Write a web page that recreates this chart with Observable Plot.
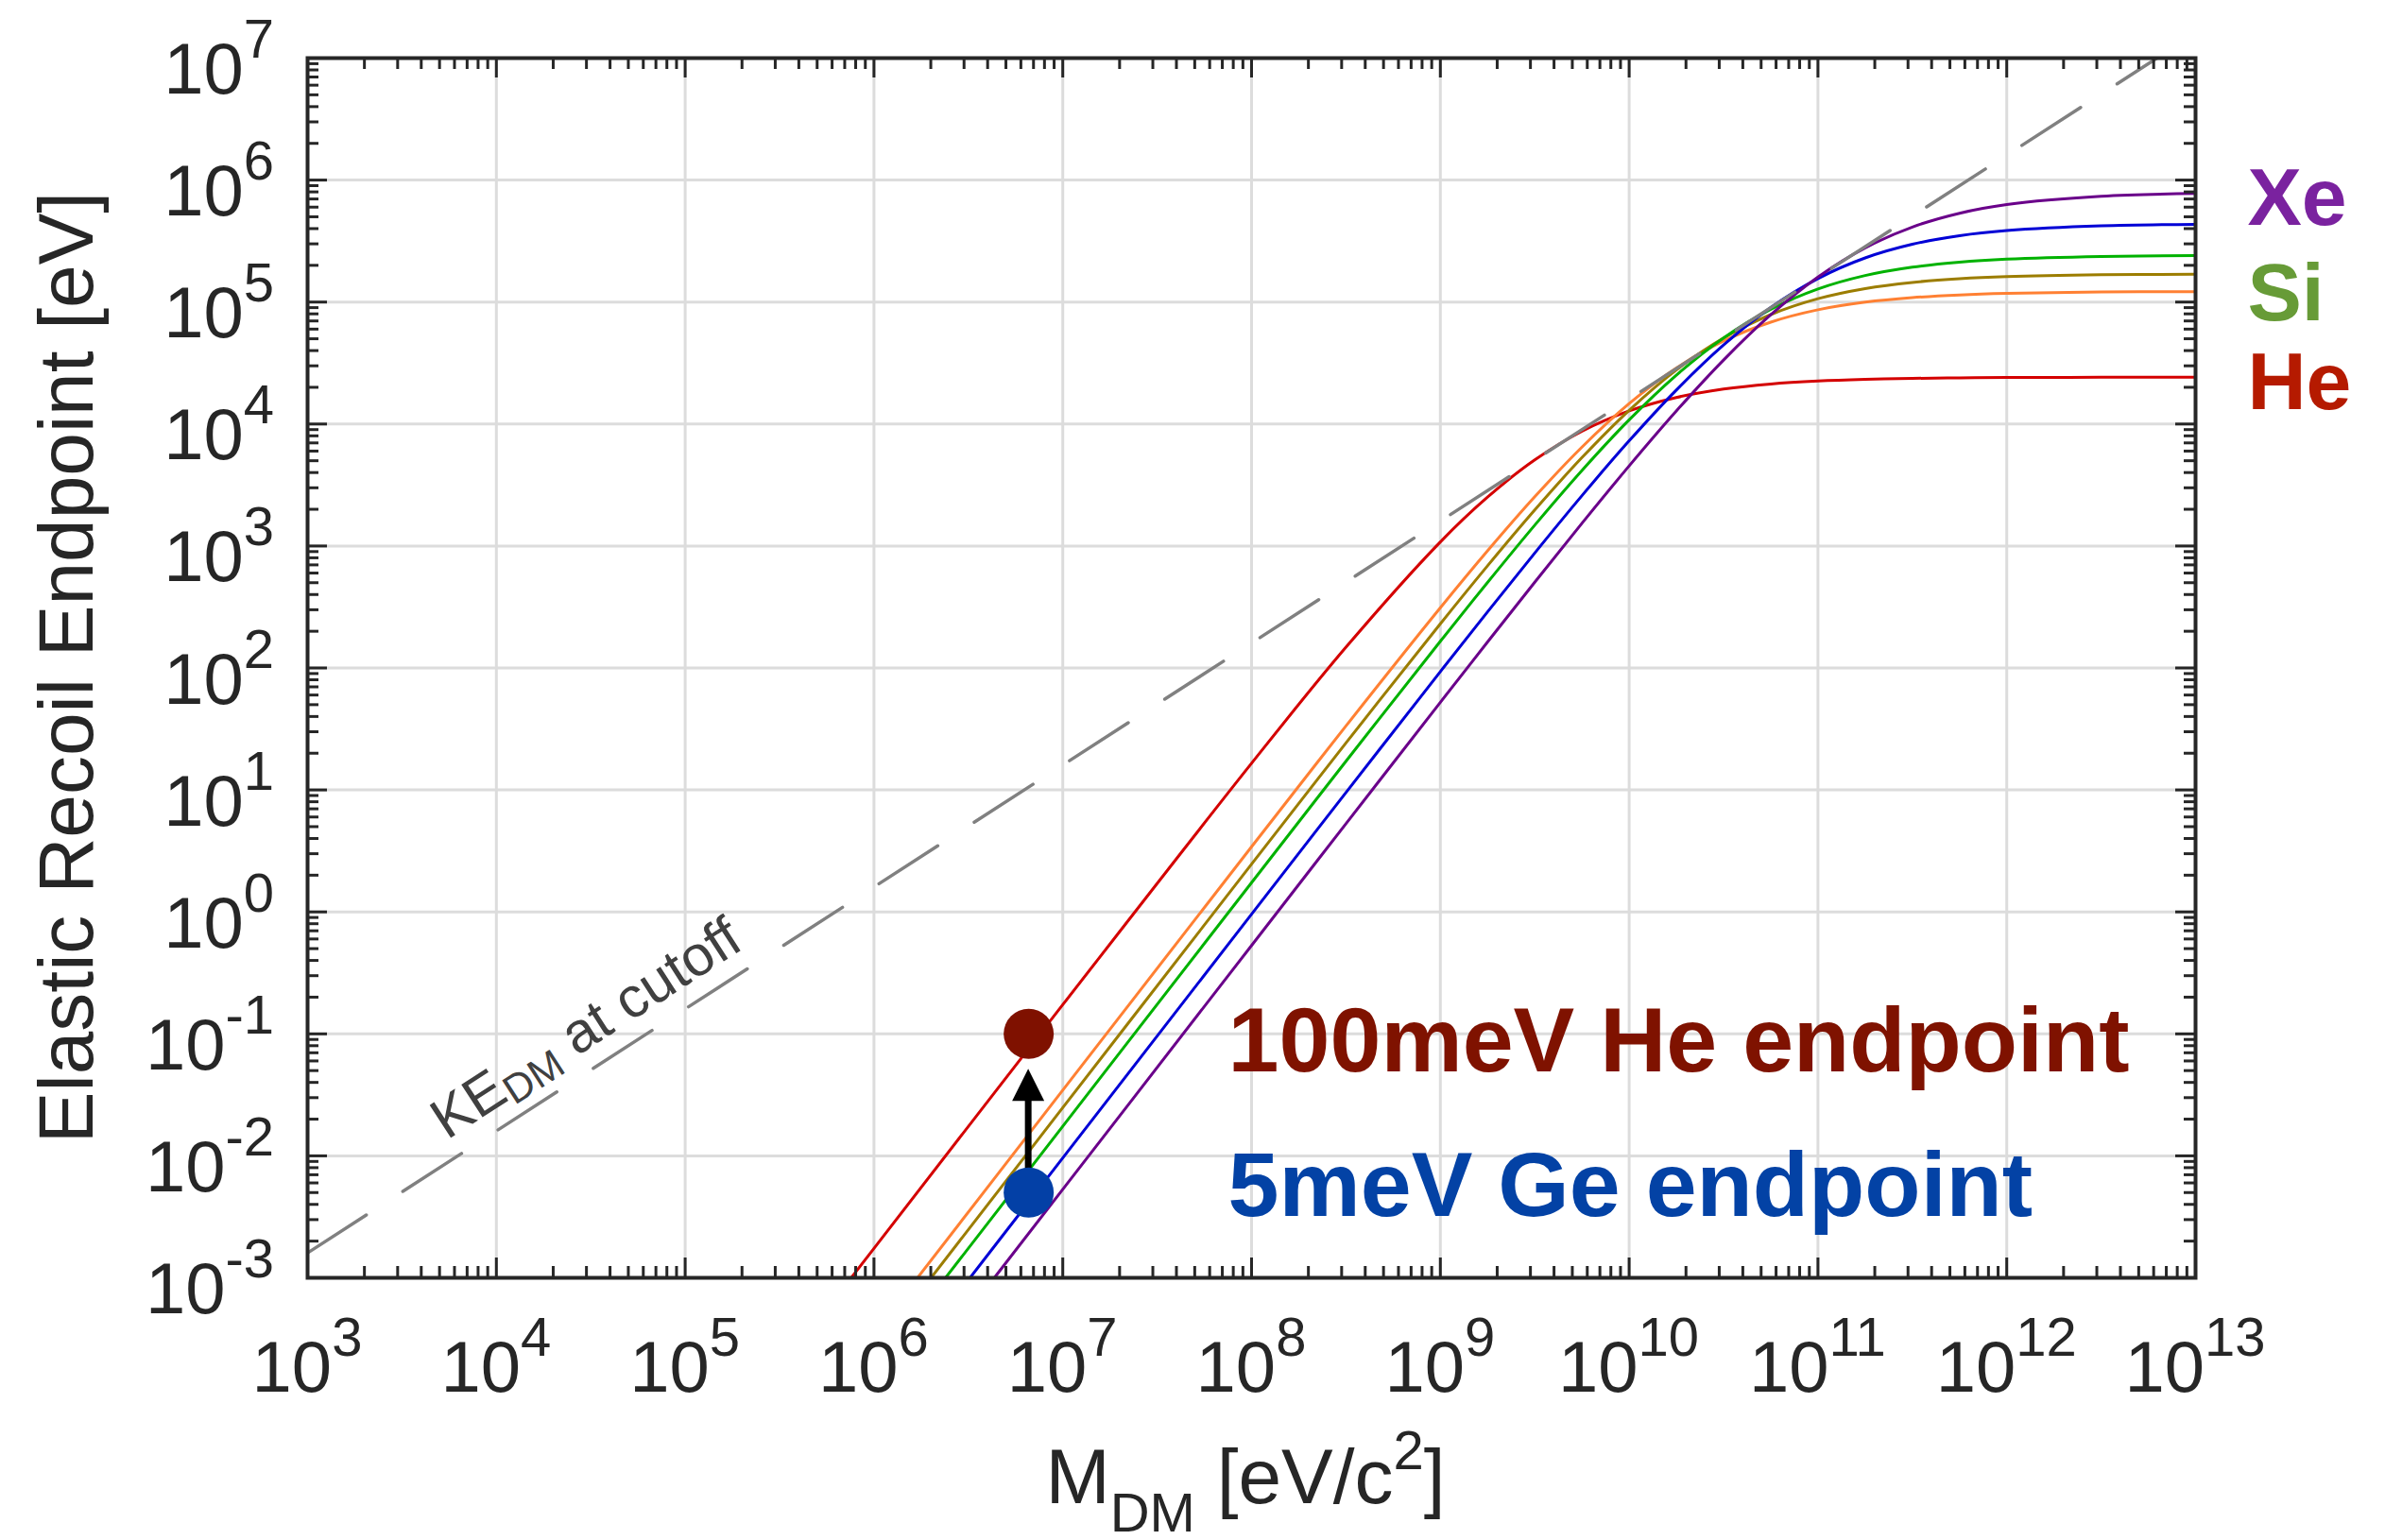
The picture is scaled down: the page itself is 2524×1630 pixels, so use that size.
<!DOCTYPE html>
<html>
<head>
<meta charset="utf-8">
<script src="https://cdn.jsdelivr.net/npm/d3@7"></script>
<script src="https://cdn.jsdelivr.net/npm/@observablehq/plot@0.6"></script>
<style>
  html, body { margin: 0; padding: 0; background: #fff; }
  #chart svg { display: block; }
</style>
</head>
<body>
<div id="chart"></div>
<script>
// Dark-matter mass grid (eV/c^2) shared by every recoil curve
const massGrid = [3.162e5, 1e6, 1e7, 1e8, 3.162e8, 1e9, 1.778e9, 3.162e9, 5.623e9, 1e10,
                  1.778e10, 3.162e10, 5.623e10, 1e11, 1.778e11, 3.162e11, 5.623e11, 1e12, 3.162e12, 1e13];

// Elastic recoil endpoint (eV) for each target nucleus along massGrid
const energyHe = [1.743e-4, 1.743e-3, 0.1734, 16.53, 147.9, 1080, 2516, 5078, 8719, 12806,
                  16510, 19357, 21290, 22504, 23237, 23665, 23917, 24055, 24177, 24216];
const energyNe = [3.458e-5, 3.458e-4, 0.03454, 3.421, 33.43, 311.5, 911.7, 2530, 6463, 14695,
                  28780, 47910, 68450, 86440, 99820, 108770, 114380, 117690, 120760, 121740];
const energySi = [2.484e-5, 2.484e-4, 0.02482, 2.465, 24.25, 230.3, 688.0, 1974, 5309, 12957,
                  27731, 50687, 78890, 106510, 128960, 144880, 155140, 161440, 167250, 169150];
const energyAr = [1.747e-5, 1.747e-4, 0.01746, 1.738, 17.17, 165.6, 502.6, 1482, 4159, 10814,
                  25177, 50790, 87150, 127940, 164930, 193260, 212520, 224680, 236210, 240110];
const energyGe = [9.607e-6, 9.607e-5, 9.605e-3, 0.9579, 9.517, 93.26, 288.4, 876.1, 2587, 7277,
                  18990, 44427, 90157, 155740, 229880, 297570, 349900, 385370, 421410, 433810];
const energyXe = [5.314e-6, 5.314e-5, 5.314e-3, 0.5306, 5.288, 52.29, 163.2, 504.7, 1535, 4536,
                  12785, 33457, 78560, 160180, 277950, 411870, 534930, 630080, 736480, 775780];

// Dark-matter kinetic energy at the velocity cutoff
const keMass = [1e3, 1e13];
const keEnergy = [1.6e-3, 1.6e7];
const keLabelMass = 5.5e3;
const keLabelEnergy = 0.0133;

// Highlighted endpoints (eV) at a common dark-matter mass
const endpointMass = 6.6e6;
const endpointHe = 0.1;    // 100 meV
const endpointGe = 0.005;  // 5 meV

// Annotation text and nucleus names on the right
const noteMass = 7.5e7;
const notes = [
  {text: "100meV He endpoint", energy: 0.086, color: "#7f1200"},
  {text: "5meV Ge endpoint", energy: 0.0056, color: "#0342a5"}
];
const sideLabels = [
  {text: "Xe", energy: 7.0e5, color: "#7a229f"},
  {text: "Si", energy: 1.16e5, color: "#679b37"},
  {text: "He", energy: 2.15e4, color: "#b51a00"}
];

// Tick labels: powers of ten
const xExponents = [3, 4, 5, 6, 7, 8, 9, 10, 11, 12, 13];
const yExponents = [-3, -2, -1, 0, 1, 2, 3, 4, 5, 6, 7];

const series = [
  {energy: energyHe, color: "#d40000"},
  {energy: energyNe, color: "#ff8033"},
  {energy: energySi, color: "#9c7d00"},
  {energy: energyAr, color: "#00b200"},
  {energy: energyGe, color: "#0000d6"},
  {energy: energyXe, color: "#6a008a"}
];

const FONT = "'Liberation Sans', Arial, Helvetica, sans-serif";
const INK = "#262626";
const W = 2524, H = 1630;
const M = {top: 61, right: 201, bottom: 278, left: 325};
const frameW = W - M.left - M.right;
const frameH = H - M.top - M.bottom;
const MAJOR = 21, MINOR = 12, DOT_R = 26.5;

const xMajor = xExponents.map(e => 10 ** e);
const yMajor = yExponents.map(e => 10 ** e);
const minorOf = (majors) => majors.slice(0, -1).flatMap(d => [2, 3, 4, 5, 6, 7, 8, 9].map(k => k * d));
const xMinor = minorOf(xMajor);
const yMinor = minorOf(yMajor);

// Arrow from the Ge endpoint up toward the He endpoint
function arrowMark(index, {x, y}) {
  const g = d3.create("svg:g");
  const ax = x(endpointMass);
  const yFrom = y(endpointGe);
  const tip = y(endpointHe) + DOT_R + 11;
  const headLen = 34, headHalf = 17;
  g.append("line")
    .attr("x1", ax).attr("x2", ax)
    .attr("y1", yFrom).attr("y2", tip + headLen - 2)
    .attr("stroke", "#000").attr("stroke-width", 7);
  g.append("path")
    .attr("d", `M${ax},${tip}L${ax + headHalf},${tip + headLen}L${ax - headHalf},${tip + headLen}Z`)
    .attr("fill", "#000");
  return g.node();
}

// Label along the cutoff line
function keLabelMark(index, {x, y}) {
  const angle = Math.atan2(y(keEnergy[1]) - y(keEnergy[0]), x(keMass[1]) - x(keMass[0])) * 180 / Math.PI;
  const g = d3.create("svg:g").attr("font-family", FONT).attr("fill", "#404040");
  const t = g.append("text")
    .attr("transform", `translate(${x(keLabelMass)},${y(keLabelEnergy)}) rotate(${angle})`)
    .attr("text-anchor", "start")
    .attr("font-size", 60);
  t.append("tspan").text("KE");
  t.append("tspan").attr("dy", 8).attr("font-size", 43).text("DM");
  t.append("tspan").attr("dy", -8).text(" at cutoff");
  return g.node();
}

// Tick labels and axis titles
function axisTextMark(index, {x, y}, values, dims) {
  const g = d3.create("svg:g").attr("font-family", FONT).attr("fill", INK);
  const bottom = dims.height - dims.marginBottom;
  for (const e of xExponents) {
    const t = g.append("text")
      .attr("x", x(10 ** e)).attr("y", bottom + 121)
      .attr("text-anchor", "middle").attr("font-size", 76);
    t.append("tspan").text("10");
    t.append("tspan").attr("dy", -38).attr("font-size", 58).text(String(e));
  }
  for (const e of yExponents) {
    const t = g.append("text")
      .attr("x", dims.marginLeft - 35).attr("y", y(10 ** e) + 38)
      .attr("text-anchor", "end").attr("font-size", 76);
    t.append("tspan").text("10");
    t.append("tspan").attr("dy", -38).attr("font-size", 58).text(String(e));
  }
  const cx = dims.marginLeft + (dims.width - dims.marginLeft - dims.marginRight) / 2 - 6;
  const xt = g.append("text")
    .attr("x", cx).attr("y", bottom + 239)
    .attr("text-anchor", "middle").attr("font-size", 82);
  xt.append("tspan").text("M");
  xt.append("tspan").attr("dy", 30).attr("font-size", 58).text("DM");
  xt.append("tspan").attr("dy", -30).text(" [eV/c");
  xt.append("tspan").attr("dy", -36).attr("font-size", 58).text("2");
  xt.append("tspan").attr("dy", 36).text("]");
  const cy = dims.marginTop + (bottom - dims.marginTop) / 2;
  g.append("text")
    .attr("transform", `translate(98,${cy}) rotate(-90)`)
    .attr("text-anchor", "middle").attr("font-size", 82)
    .text("Elastic Recoil Endpoint [eV]");
  return g.node();
}

const curveMarks = series.map(s =>
  Plot.line(massGrid.map((m, i) => ({mass: m, energy: s.energy[i]})), {
    x: "mass", y: "energy", stroke: s.color, strokeWidth: 3,
    curve: "catmull-rom", clip: true
  })
);

const keRows = keMass.map((m, i) => ({mass: m, energy: keEnergy[i]}));

const chart = Plot.plot({
  width: W,
  height: H,
  marginTop: M.top,
  marginRight: M.right,
  marginBottom: M.bottom,
  marginLeft: M.left,
  style: {fontFamily: FONT, background: "#fff", overflow: "visible"},
  x: {type: "log", domain: [1e3, 1e13], axis: null},
  y: {type: "log", domain: [1e-3, 1e7], axis: null},
  marks: [
    // grid
    Plot.ruleX(xMajor.slice(1, -1), {stroke: "#dcdcdc", strokeWidth: 3}),
    Plot.ruleY(yMajor.slice(1, -1), {stroke: "#dcdcdc", strokeWidth: 3}),
    // recoil curves
    ...curveMarks,
    // cutoff kinetic energy
    Plot.line(keRows, {x: "mass", y: "energy", stroke: "#808080", strokeWidth: 3.5,
                       strokeDasharray: "74 46", clip: true}),
    keLabelMark,
    arrowMark,
    Plot.dot([{mass: endpointMass, energy: endpointHe}], {x: "mass", y: "energy", r: DOT_R, fill: "#7f1100"}),
    Plot.dot([{mass: endpointMass, energy: endpointGe}], {x: "mass", y: "energy", r: DOT_R, fill: "#0340a6"}),
    // inward ticks on all four sides
    Plot.ruleX(xMajor, {stroke: INK, strokeWidth: 3, insetTop: frameH - MAJOR}),
    Plot.ruleX(xMajor, {stroke: INK, strokeWidth: 3, insetBottom: frameH - MAJOR}),
    Plot.ruleX(xMinor, {stroke: INK, strokeWidth: 3, insetTop: frameH - MINOR}),
    Plot.ruleX(xMinor, {stroke: INK, strokeWidth: 3, insetBottom: frameH - MINOR}),
    Plot.ruleY(yMajor, {stroke: INK, strokeWidth: 3, insetRight: frameW - MAJOR}),
    Plot.ruleY(yMajor, {stroke: INK, strokeWidth: 3, insetLeft: frameW - MAJOR}),
    Plot.ruleY(yMinor, {stroke: INK, strokeWidth: 3, insetRight: frameW - MINOR}),
    Plot.ruleY(yMinor, {stroke: INK, strokeWidth: 3, insetLeft: frameW - MINOR}),
    Plot.frame({stroke: INK, strokeWidth: 4}),
    // annotations
    Plot.text(notes, {x: () => noteMass, y: "energy", text: "text", fill: "color",
                      textAnchor: "start", lineAnchor: "middle", fontSize: 97, fontWeight: "bold"}),
    Plot.text(sideLabels, {x: () => 1e13, y: "energy", text: "text", fill: "color", dx: 55,
                           textAnchor: "start", lineAnchor: "middle", fontSize: 86, fontWeight: "bold"}),
    axisTextMark
  ]
});

document.getElementById("chart").appendChild(chart);
</script>
</body>
</html>
